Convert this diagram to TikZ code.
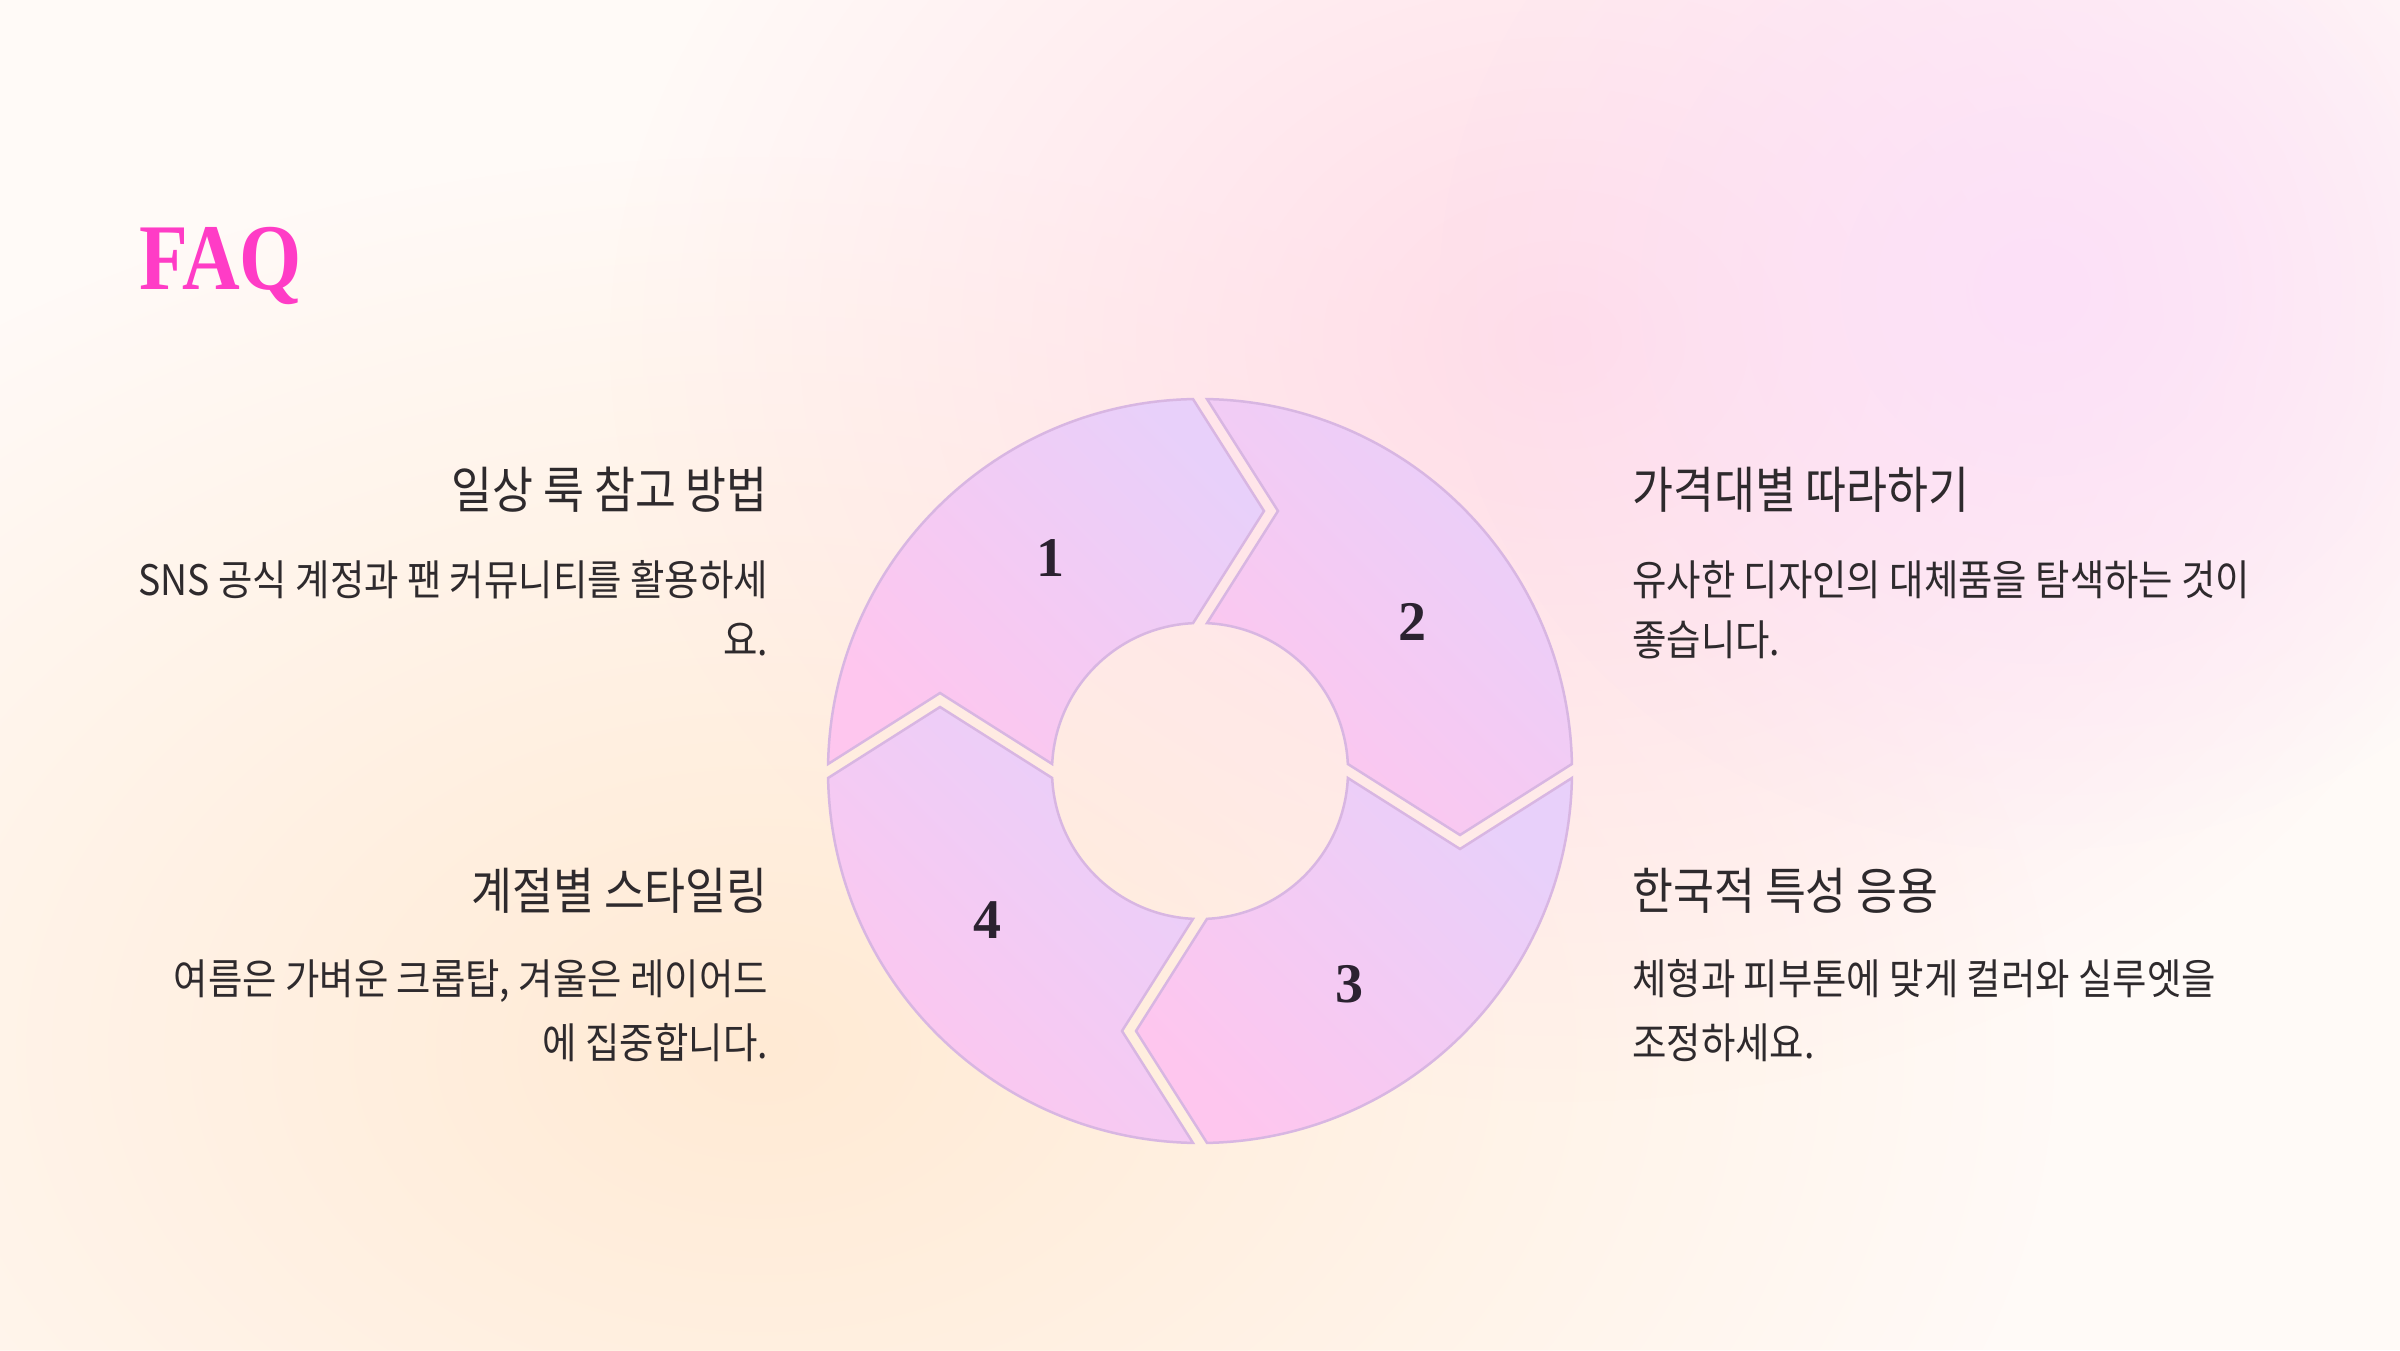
\documentclass[tikz,border=0pt]{standalone}
\usepackage{fontspec}
\usetikzlibrary{fadings}
\newfontfamily\krfont[FakeStretch=0.89]{Noto Sans CJK KR}
\newfontfamily\titlefont[FakeStretch=0.85]{Liberation Serif}
\newfontfamily\numfont{Liberation Serif}
\definecolor{bgbase}{HTML}{FFFAF7}
\definecolor{peachblob}{HTML}{FFEAD4}
\definecolor{pinkblob}{HTML}{FFDCE8}
\definecolor{lavblob}{HTML}{FCE0F8}
\definecolor{faqpink}{HTML}{FF3CC6}
\definecolor{textdark}{HTML}{2E2A2D}
\definecolor{numdark}{HTML}{2B2230}
\definecolor{seglav}{HTML}{E8D0FA}
\definecolor{segpink}{HTML}{FEC6EE}
\definecolor{segline}{HTML}{D8B6E2}
\tikzfading[name=blobfade, inner color=transparent!0, outer color=transparent!100]
\begin{document}
\begin{tikzpicture}[x=1pt,y=1pt,
  seg/.style={draw=segline, line width=2.5pt, top color=seglav, bottom color=segpink, shading angle=-45},
  heading/.style={inner sep=0, text=textdark, font=\krfont\fontsize{50}{60}\selectfont},
  body/.style={inner sep=0, text=textdark, font=\krfont\fontsize{42}{50}\selectfont},
  num/.style={inner sep=0, text=numdark, font=\numfont\bfseries\fontsize{56}{60}\selectfont}]
\useasboundingbox (0,0) rectangle (2400,1350);
\clip (0,0) rectangle (2400,1350);
% background
\fill[bgbase] (0,0) rectangle (2400,1350);
\fill[peachblob, path fading=blobfade] (760,300) ellipse (1300 and 900);
\fill[pinkblob, path fading=blobfade] (1560,1010) ellipse (950 and 760);
\fill[lavblob, path fading=blobfade] (2040,1060) ellipse (600 and 560);
% title
\node[anchor=base west, inner sep=0, text=faqpink, font=\titlefont\bfseries\fontsize{94}{100}\selectfont] (faq) at (139,1060) {FAQ};
% ring
\begin{scope}[shift={(1200,579)}]
\foreach \p in {0,90,180,270}{
  \draw[seg] (178.92-\p:372) arc[start angle=178.92-\p, end angle=91.08-\p, radius=372]
    -- (76.17-\p:267.76) -- (92.71-\p:148)
    arc[start angle=92.71-\p, end angle=177.29-\p, radius=148]
    -- (163.30-\p:271.45) -- cycle;
}
\node[num] (n1) at (125:260) {1};
\node[num] (n2) at (35:260) {2};
\node[num] (n3) at (-55:260) {3};
\node[num] (n4) at (-145:260) {4};
\end{scope}
% left texts
\node[heading, anchor=base east] (h1) at (768,841) {일상 룩 참고 방법};
\node[body, anchor=base east] (b1a) at (768,754) {SNS 공식 계정과 팬 커뮤니티를 활용하세};
\node[body, anchor=base east] (b1b) at (768,694) {요.};
\node[heading, anchor=base east] (h4) at (768,440) {계절별 스타일링};
\node[body, anchor=base east] (b4a) at (768,356) {여름은 가벼운 크롭탑, 겨울은 레이어드};
\node[body, anchor=base east] (b4b) at (768,292) {에 집중합니다.};
% right texts
\node[heading, anchor=base west] (h2) at (1632,841) {가격대별 따라하기};
\node[body, anchor=base west] (b2a) at (1632,754) {유사한 디자인의 대체품을 탐색하는 것이};
\node[body, anchor=base west] (b2b) at (1632,694) {좋습니다.};
\node[heading, anchor=base west] (h3) at (1632,440) {한국적 특성 응용};
\node[body, anchor=base west] (b3a) at (1632,356) {체형과 피부톤에 맞게 컬러와 실루엣을};
\node[body, anchor=base west] (b3b) at (1632,292) {조정하세요.};
\end{tikzpicture}
\end{document}
